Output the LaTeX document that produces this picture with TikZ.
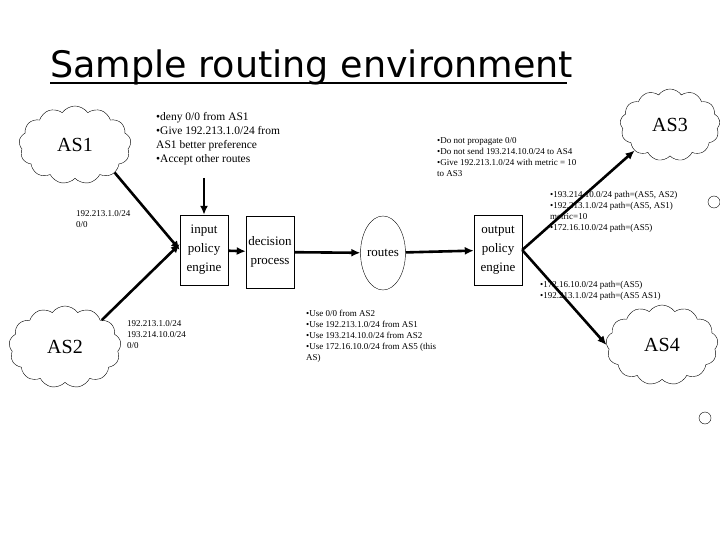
\documentclass[tikz,border=0pt]{standalone}
\usepackage{fontspec}
\setmainfont{Liberation Serif}
\newfontfamily\titlefont{DejaVu Sans}
\usetikzlibrary{shapes.symbols,shapes.geometric,arrows.meta}
\begin{document}
\begin{tikzpicture}[x=1pt,y=-1pt,
  cl/.style={draw,cloud,cloud puffs=13,cloud puff arc=110,aspect=1.5,inner sep=0pt,font=\fontsize{20}{22}\selectfont},
  bx/.style={draw,minimum width=48pt,minimum height=70pt,align=center,inner sep=0pt,font=\fontsize{13}{19}\selectfont},
  ar/.style={line width=2.6pt,-{Latex[length=9pt,width=8pt]}},
  sm/.style={align=left,anchor=north west,font=\fontsize{9}{11}\selectfont,inner sep=0pt},
  md/.style={align=left,anchor=north west,font=\fontsize{11.5}{14}\selectfont,inner sep=0pt}]
\useasboundingbox (0,0) rectangle (720,540);
\node[anchor=base west,inner sep=0pt,font=\titlefont\fontsize{36.5}{38}\selectfont] (title) at (50,78) {Sample routing environment};
\draw[line width=1.5pt] (title.base west) ++(0,5) -- ++(517,0);
\node[cl,minimum width=112pt,minimum height=78pt] (as1) at (75,145) {AS1};
\node[cl,minimum width=112pt,minimum height=82pt] (as2) at (65,347) {AS2};
\node[cl,minimum width=100pt,minimum height=72pt] (as3) at (670,125) {AS3};
\node[cl,minimum width=112pt,minimum height=80pt] (as4) at (662,345) {AS4};
\node[draw,circle,minimum size=12pt,inner sep=0pt] (c1) at (714,202) {};
\node[draw,circle,minimum size=12pt,inner sep=0pt] (c2) at (705,418) {};
\node[bx] (in) at (204,250) {input\\policy\\engine};
\node[bx,minimum height=72pt] (dec) at (270,252) {decision\\process};
\node[draw,ellipse,minimum width=44pt,minimum height=74pt,inner sep=0pt,font=\fontsize{13}{15}\selectfont] (rt) at (383,253) {routes};
\node[bx] (out) at (498,250) {output\\policy\\engine};
\node[md] (t1) at (156,112) {\textbullet deny 0/0 from AS1\\\textbullet Give 192.213.1.0/24 from\\AS1 better preference\\\textbullet Accept other routes};
\coordinate (d0) at (204,178);
\draw[ar] (d0) -- (in.north);
\draw[ar] (as1.south east) -- (in.west);
\draw[ar] (as2.north east) -- ([yshift=6pt]in.west);
\draw[ar] (in) -- (dec);
\draw[ar] (dec) -- (rt);
\draw[ar] (rt) -- (out);
\draw[ar] (out.east) -- (as3.south west);
\draw[ar] (out.east) -- (as4.west);
\node[sm] at (76,210) {192.213.1.0/24\\0/0};
\node[sm] at (127,320) {192.213.1.0/24\\193.214.10.0/24\\0/0};
\node[sm] at (306,310) {\textbullet Use 0/0 from AS2\\\textbullet Use 192.213.1.0/24 from AS1\\\textbullet Use 193.214.10.0/24 from AS2\\\textbullet Use 172.16.10.0/24 from AS5 (this\\AS)};
\node[sm] at (437,137) {\textbullet Do not propagate 0/0\\\textbullet Do not send 193.214.10.0/24 to AS4\\\textbullet Give 192.213.1.0/24 with metric = 10\\to AS3};
\node[sm] at (550,191) {\textbullet 193.214.10.0/24 path=(AS5, AS2)\\\textbullet 192.213.1.0/24 path=(AS5, AS1)\\metric=10\\\textbullet 172.16.10.0/24 path=(AS5)};
\node[sm] at (540,281) {\textbullet 172.16.10.0/24 path=(AS5)\\\textbullet 192.213.1.0/24 path=(AS5 AS1)};
\end{tikzpicture}
\end{document}
